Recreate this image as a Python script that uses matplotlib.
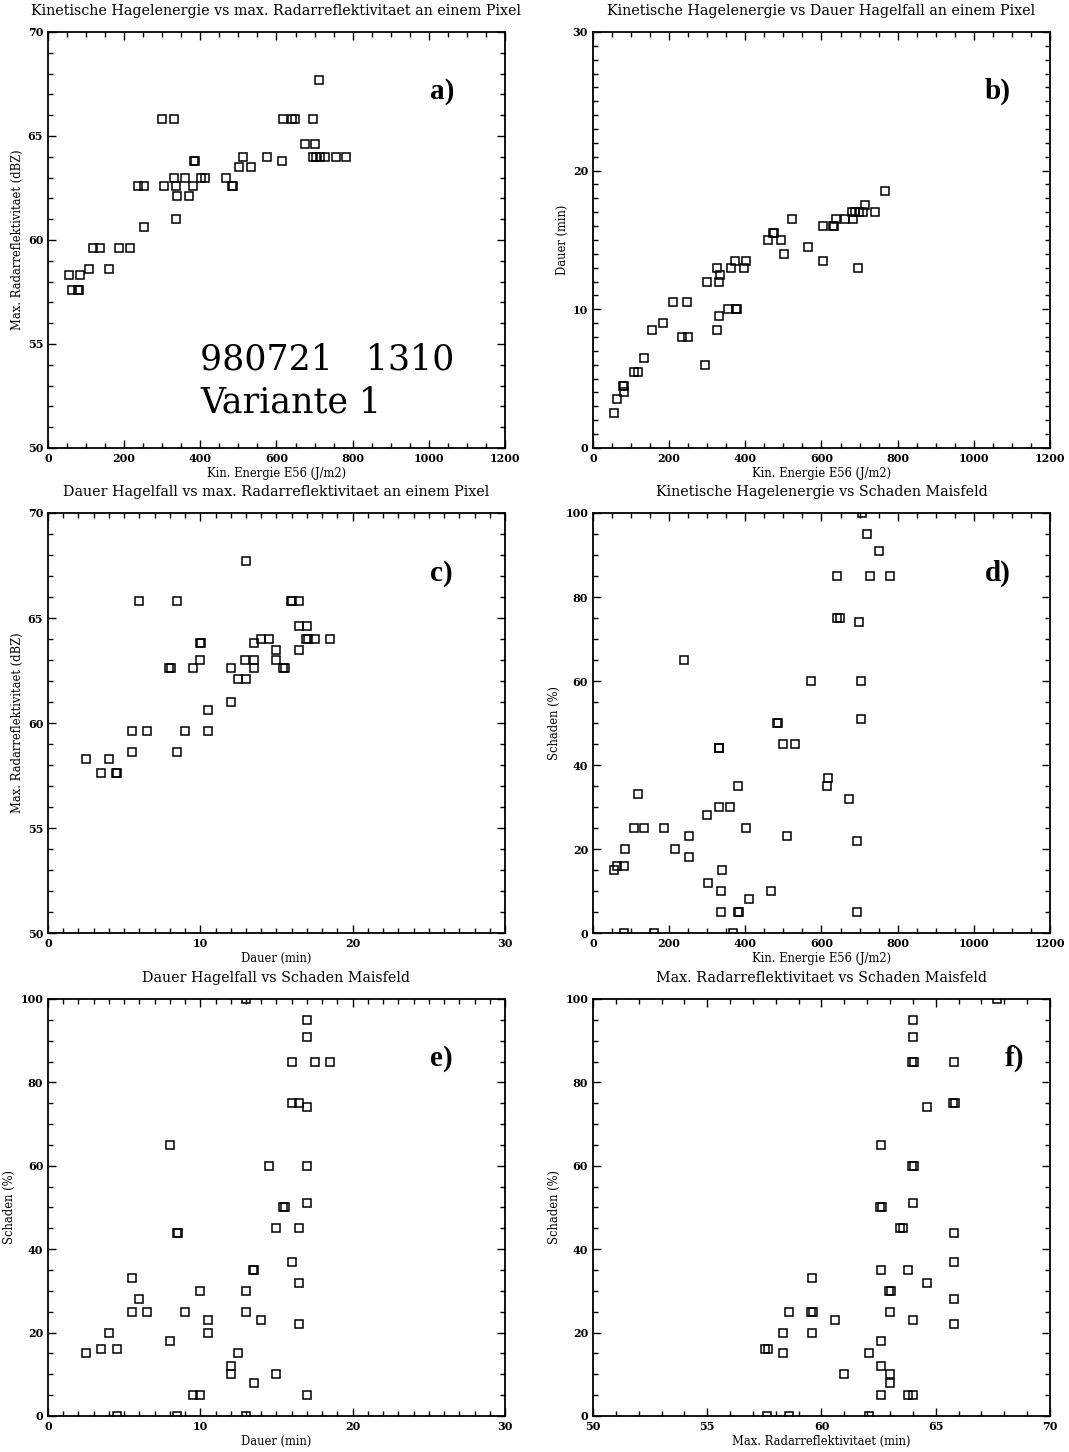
import matplotlib
matplotlib.use('Agg')
import matplotlib.pyplot as plt
from matplotlib.ticker import MultipleLocator

plt.rcParams['font.family'] = 'DejaVu Serif'

# a) kin. energy vs max. reflectivity
a_energy = [300, 332, 711, 617, 641, 648, 696, 674, 702, 511, 575, 615,
            696, 705, 714, 727, 755, 782, 384, 386, 502, 532, 332, 360,
            403, 411, 468, 237, 253, 304, 337, 381, 483, 485, 340, 369,
            337, 252, 118, 136, 186, 216, 108, 159, 54, 83, 63, 79, 81]
a_refl = [65.8, 65.8, 67.7, 65.8, 65.8, 65.8, 65.8, 64.6, 64.6, 64.0, 64.0, 63.8,
          64.0, 64.0, 64.0, 64.0, 64.0, 64.0, 63.8, 63.8, 63.5, 63.5, 63.0, 63.0,
          63.0, 63.0, 63.0, 62.6, 62.6, 62.6, 62.6, 62.6, 62.6, 62.6, 62.1, 62.1,
          61.0, 60.6, 59.6, 59.6, 59.6, 59.6, 58.6, 58.6, 58.3, 58.3, 57.6, 57.6, 57.6]

# b) kin. energy vs duration
b_energy = [54, 63, 79, 81, 82, 107, 118, 133, 156, 184, 211, 233, 249, 248, 295,
            299, 325, 325, 331, 333, 332, 354, 362, 374, 375, 377, 397, 403, 459, 474,
            476, 493, 501, 522, 564, 603, 605, 630, 632, 638, 661, 681, 683, 689, 698,
            708, 715, 741, 767, 696]
b_dauer = [2.5, 3.5, 4.5, 4.5, 4.0, 5.5, 5.5, 6.5, 8.5, 9.0, 10.5, 8.0, 8.0, 10.5, 6.0,
           12.0, 13.0, 8.5, 12.0, 12.5, 9.5, 10.0, 13.0, 13.5, 10.0, 10.0, 13.0, 13.5, 15.0, 15.5,
           15.5, 15.0, 14.0, 16.5, 14.5, 13.5, 16.0, 16.0, 16.0, 16.5, 16.5, 17.0, 16.5, 17.0, 17.0,
           17.0, 17.5, 17.0, 18.5, 13.0]

# c) duration vs max. reflectivity
c_dauer = [2.5, 3.5, 4.0, 4.45, 4.55, 5.5, 5.5, 6.0, 6.5, 7.95, 8.05, 8.5, 8.5, 9.0, 9.5,
           9.95, 10.05, 10.0, 10.5, 10.5, 12.0, 12.0, 12.5, 13.0, 13.0, 12.95, 13.5, 13.5, 13.5, 14.0,
           14.5, 15.0, 15.0, 15.45, 15.55, 15.95, 16.05, 16.5, 16.5, 17.0, 16.5, 16.95, 17.05, 17.5, 18.5]
c_refl = [58.3, 57.6, 58.3, 57.6, 57.6, 58.6, 59.6, 65.8, 59.6, 62.6, 62.6, 65.8, 58.6, 59.6, 62.6,
          63.8, 63.8, 63.0, 60.6, 59.6, 62.6, 61.0, 62.1, 62.1, 67.7, 63.0, 63.0, 63.8, 62.6, 64.0,
          64.0, 63.5, 63.0, 62.6, 62.6, 65.8, 65.8, 65.8, 64.6, 64.6, 63.5, 64.0, 64.0, 64.0, 64.0]

# d) kin. energy vs damage
d_energy = [707, 719, 752, 642, 727, 780, 641, 649, 698, 239, 573, 705, 705,
            483, 485, 500, 530, 330, 332, 616, 614, 380, 671, 119, 331, 360,
            300, 109, 135, 187, 403, 253, 510, 693, 84, 215, 253, 55, 64,
            82, 338, 303, 336, 467, 410, 337, 381, 383, 693, 81, 159, 368]
d_schaden = [100, 95, 91, 85, 85, 85, 75, 75, 74, 65, 60, 60, 51,
             50, 50, 45, 45, 44, 44, 37, 35, 35, 32, 33, 30, 30,
             28, 25, 25, 25, 25, 23, 23, 22, 20, 20, 18, 15, 16,
             16, 15, 12, 10, 10, 8, 5, 5, 5, 5, 0, 0, 0]

# e) duration vs damage
e_dauer = [13.0, 17.0, 17.0, 16.0, 17.5, 18.5, 16.0, 16.5, 17.0, 8.0, 14.5, 17.0, 17.0,
           15.45, 15.55, 15.0, 16.5, 8.45, 8.55, 16.0, 13.45, 13.55, 16.5, 5.5, 10.0, 13.0,
           6.0, 5.5, 6.5, 9.0, 13.0, 10.5, 14.0, 16.5, 4.0, 10.5, 8.0, 2.5, 3.5,
           4.5, 12.5, 12.0, 12.0, 15.0, 13.5, 9.5, 10.0, 17.0, 4.5, 8.5, 13.0]
e_schaden = [100, 95, 91, 85, 85, 85, 75, 75, 74, 65, 60, 60, 51,
             50, 50, 45, 45, 44, 44, 37, 35, 35, 32, 33, 30, 30,
             28, 25, 25, 25, 25, 23, 23, 22, 20, 20, 18, 15, 16,
             16, 15, 12, 10, 10, 8, 5, 5, 5, 0, 0, 0]

# f) max. reflectivity vs damage
f_refl = [67.7, 64.0, 64.0, 63.95, 64.05, 65.8, 64.6, 65.75, 65.85, 62.6,
          63.95, 64.05, 64.0, 62.55, 62.65, 63.45, 63.55, 65.8, 65.8, 62.6,
          63.8, 64.6, 59.6, 62.95, 63.05, 58.6, 59.55, 59.65, 63.0, 60.6,
          64.0, 65.8, 65.8, 58.3, 59.6, 62.6, 57.55, 57.65, 58.3, 62.1,
          62.6, 61.0, 63.0, 63.0, 62.6, 63.8, 64.0, 57.6, 58.6, 62.1]
f_schaden = [100, 95, 91, 85, 85, 85, 74, 75, 75, 65,
             60, 60, 51, 50, 50, 45, 45, 44, 37, 35,
             35, 32, 33, 30, 30, 25, 25, 25, 25, 23,
             23, 28, 22, 20, 20, 18, 16, 16, 15, 15,
             12, 10, 10, 8, 5, 5, 5, 0, 0, 0]

fig = plt.figure(figsize=(10.69, 14.52), dpi=100)

col_x = [0.0449, 0.5547]
row_y = [(0.6915, 0.2865), (0.3574, 0.2893), (0.0248, 0.2872)]
W = 0.4275


def panel(col, row, x, y, xlim, ylim, xmaj, xmin, ymaj, ymin,
          title, xlabel, ylabel, letter, lx):
    b, h = row_y[row]
    ax = fig.add_axes([col_x[col], b, W, h])
    ax.plot(x, y, 's', ms=5.5, mfc='none', mec='black', mew=1.1)
    ax.set_xlim(xlim)
    ax.set_ylim(ylim)
    ax.xaxis.set_major_locator(MultipleLocator(xmaj))
    ax.xaxis.set_minor_locator(MultipleLocator(xmin))
    ax.yaxis.set_major_locator(MultipleLocator(ymaj))
    ax.yaxis.set_minor_locator(MultipleLocator(ymin))
    ax.tick_params(which='both', direction='in', top=True, right=True,
                   labelsize=8, width=1)
    ax.tick_params(which='major', length=6)
    ax.tick_params(which='minor', length=3.5)
    for lab in ax.get_xticklabels() + ax.get_yticklabels():
        lab.set_fontweight('bold')
    for sp in ax.spines.values():
        sp.set_linewidth(1.3)
    ax.set_title(title, fontsize=10.3, pad=12)
    ax.set_xlabel(xlabel, fontsize=8.3, labelpad=2)
    ax.set_ylabel(ylabel, fontsize=8.3, labelpad=3)
    ax.text(lx, 0.84, letter, transform=ax.transAxes, fontsize=21,
            fontweight='bold', family='Liberation Serif')
    return ax


ax = panel(0, 0, a_energy, a_refl, (0, 1200), (50, 70), 200, 50, 5, 1,
           'Kinetische Hagelenergie vs max. Radarreflektivitaet an einem Pixel',
           'Kin. Energie E56 (J/m2)', 'Max. Radarreflektivitaet (dBZ)', 'a)', 0.836)
ax.text(400, 53.75, '980721   1310', fontsize=25)
ax.text(400, 51.7, 'Variante 1', fontsize=25)

panel(1, 0, b_energy, b_dauer, (0, 1200), (0, 30), 200, 50, 10, 1,
      'Kinetische Hagelenergie vs Dauer Hagelfall an einem Pixel',
      'Kin. Energie E56 (J/m2)', 'Dauer (min)', 'b)', 0.858)

panel(0, 1, c_dauer, c_refl, (0, 30), (50, 70), 10, 1, 5, 1,
      'Dauer Hagelfall vs max. Radarreflektivitaet an einem Pixel',
      'Dauer (min)', 'Max. Radarreflektivitaet (dBZ)', 'c)', 0.836)

panel(1, 1, d_energy, d_schaden, (0, 1200), (0, 100), 200, 50, 20, 5,
      'Kinetische Hagelenergie vs Schaden Maisfeld',
      'Kin. Energie E56 (J/m2)', 'Schaden (%)', 'd)', 0.858)

panel(0, 2, e_dauer, e_schaden, (0, 30), (0, 100), 10, 1, 20, 5,
      'Dauer Hagelfall vs Schaden Maisfeld',
      'Dauer (min)', 'Schaden (%)', 'e)', 0.836)

panel(1, 2, f_refl, f_schaden, (50, 70), (0, 100), 5, 1, 20, 5,
      'Max. Radarreflektivitaet vs Schaden Maisfeld',
      'Max. Radarreflektivitaet (min)', 'Schaden (%)', 'f)', 0.90)

fig.savefig('out.png', dpi=100)
